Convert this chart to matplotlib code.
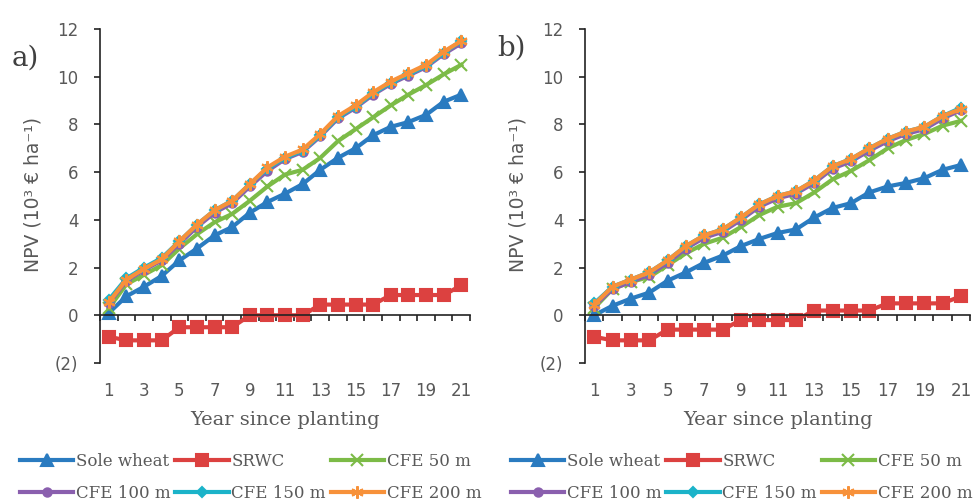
import matplotlib
matplotlib.use("Agg")
import matplotlib.pyplot as plt

# Year since planting (categories)
years = list(range(1, 22))

# Panel a)
a_sole_wheat = [0.1, 0.8, 1.2, 1.65, 2.3, 2.8, 3.35, 3.7, 4.3, 4.75, 5.1, 5.5, 6.1, 6.6, 7.0, 7.55, 7.9, 8.1, 8.4, 8.95, 9.25]
a_srwc = [-0.9, -1.05, -1.05, -1.05, -0.5, -0.5, -0.5, -0.5, 0.0, 0.0, 0.0, 0.0, 0.45, 0.45, 0.45, 0.45, 0.85, 0.85, 0.85, 0.85, 1.25]
a_cfe50 = [0.3, 1.3, 1.7, 2.1, 2.8, 3.4, 3.9, 4.25, 4.8, 5.4, 5.9, 6.1, 6.6, 7.3, 7.8, 8.3, 8.8, 9.25, 9.65, 10.1, 10.5]
a_cfe100 = [0.5, 1.45, 1.9, 2.3, 3.0, 3.7, 4.3, 4.7, 5.4, 6.05, 6.55, 6.85, 7.5, 8.25, 8.7, 9.25, 9.7, 10.05, 10.4, 10.95, 11.4]
a_cfe150 = [0.65, 1.55, 2.0, 2.4, 3.1, 3.8, 4.4, 4.8, 5.5, 6.15, 6.6, 6.9, 7.55, 8.3, 8.75, 9.3, 9.75, 10.1, 10.45, 11.0, 11.5]
a_cfe200 = [0.55, 1.5, 1.95, 2.35, 3.1, 3.8, 4.4, 4.8, 5.5, 6.2, 6.65, 6.95, 7.6, 8.35, 8.8, 9.35, 9.8, 10.15, 10.5, 11.05, 11.5]

# Panel b)
b_sole_wheat = [0.0, 0.4, 0.7, 0.95, 1.45, 1.8, 2.2, 2.5, 2.9, 3.2, 3.45, 3.6, 4.1, 4.5, 4.7, 5.15, 5.4, 5.55, 5.75, 6.1, 6.3]
b_srwc = [-0.9, -1.05, -1.05, -1.05, -0.6, -0.6, -0.6, -0.6, -0.2, -0.2, -0.2, -0.2, 0.2, 0.2, 0.2, 0.2, 0.5, 0.5, 0.5, 0.5, 0.8]
b_cfe50 = [0.3, 1.1, 1.4, 1.6, 2.1, 2.6, 3.0, 3.25, 3.7, 4.2, 4.55, 4.7, 5.15, 5.7, 6.05, 6.5, 7.0, 7.35, 7.6, 7.95, 8.15]
b_cfe100 = [0.4, 1.1, 1.4, 1.7, 2.2, 2.8, 3.25, 3.5, 4.0, 4.55, 4.9, 5.1, 5.55, 6.15, 6.45, 6.9, 7.3, 7.6, 7.8, 8.25, 8.6]
b_cfe150 = [0.5, 1.2, 1.5, 1.8, 2.3, 2.9, 3.35, 3.6, 4.1, 4.65, 5.0, 5.2, 5.65, 6.25, 6.55, 7.0, 7.4, 7.7, 7.9, 8.35, 8.7]
b_cfe200 = [0.45, 1.2, 1.5, 1.8, 2.3, 2.9, 3.35, 3.6, 4.1, 4.65, 5.0, 5.2, 5.65, 6.25, 6.55, 7.0, 7.4, 7.7, 7.9, 8.35, 8.65]

names = ["Sole wheat", "SRWC", "CFE 50 m", "CFE 100 m", "CFE 150 m", "CFE 200 m"]
colors = ["#2a7bc0", "#dc4140", "#7cbb47", "#8a5fae", "#1bb3c9", "#f7913a"]
markers = ["^", "s", "x", "o", "D", (6, 2, 0)]
msizes = [9, 8, 8, 6, 5, 9]

y_ticks = [-2, 0, 2, 4, 6, 8, 10, 12]
y_labels = ["(2)", "0", "2", "4", "6", "8", "10", "12"]

grey = "#595959"
plt.rcParams["font.family"] = ["DejaVu Serif"]

fig = plt.figure(figsize=(9.75, 5.03), dpi=100)
ax_a = fig.add_axes([0.1026, 0.2783, 0.3795, 0.6640])
ax_b = fig.add_axes([0.6000, 0.2783, 0.3950, 0.6640])

# axes, data, tag, tag position, y-label x, legend left edge (figure px)
panels = [
    (ax_a, [a_sole_wheat, a_srwc, a_cfe50, a_cfe100, a_cfe150, a_cfe200], "a)", 0.012, 0.870, -0.155, 20),
    (ax_b, [b_sole_wheat, b_srwc, b_cfe50, b_cfe100, b_cfe150, b_cfe200], "b)", 0.510, 0.890, -0.15, 511),
]

for ax, series, tag, tx, ty, ylx, lx in panels:
    for vals, name, c, m, ms in zip(series, names, colors, markers, msizes):
        ax.plot(years, vals, color=c, lw=3, marker=m, ms=ms, mew=1.5,
                mec=c, mfc=c, label=name, solid_joinstyle="round")

    ax.set_xlim(0.5, 21.5)
    ax.set_ylim(-2, 12)
    for s in ["top", "right"]:
        ax.spines[s].set_visible(False)
    ax.spines["bottom"].set_position(("data", 0))
    for s in ["left", "bottom"]:
        ax.spines[s].set_color("#222222")
        ax.spines[s].set_linewidth(1.2)

    ax.set_yticks(y_ticks)
    ax.set_yticklabels(y_labels, family=["DejaVu Sans"])
    ax.tick_params(axis="y", direction="out", length=4, width=1.2,
                   colors="#222222", labelcolor=grey, labelsize=12, pad=11.5)

    ax.set_xticks(years[::2])
    ax.set_xticklabels([str(y) for y in years[::2]], family=["DejaVu Sans"])
    ax.set_xticks([y + 0.5 for y in range(0, 22)], minor=True)
    ax.tick_params(axis="x", which="major", length=0, labelcolor=grey,
                   labelsize=12, pad=48)
    ax.tick_params(axis="x", which="minor", direction="out", length=4,
                   width=1.2, colors="#222222")

    ax.set_ylabel("NPV (10³ € ha⁻¹)", family=["DejaVu Sans"], color=grey,
                  fontsize=13.5)
    ax.yaxis.set_label_coords(ylx, 0.505)
    ax.set_xlabel("Year since planting", color=grey, fontsize=14)
    ax.xaxis.set_label_coords(0.5, -0.145)

    fig.text(tx, ty, tag, fontsize=20, color="#404040")

    h, l = ax.get_legend_handles_labels()
    order = [0, 3, 1, 4, 2, 5]
    leg = fig.legend([h[i] for i in order], [l[i] for i in order], ncol=3,
                     loc="upper left", bbox_to_anchor=(lx / 975, 1 - 453 / 503),
                     bbox_transform=fig.transFigure,
                     frameon=False, fontsize=12, handlelength=3.2,
                     handletextpad=0.15, columnspacing=0.3, labelspacing=0.9,
                     borderpad=0, borderaxespad=0)
    for t in leg.get_texts():
        t.set_color(grey)

fig.savefig("out.png", dpi=100)
